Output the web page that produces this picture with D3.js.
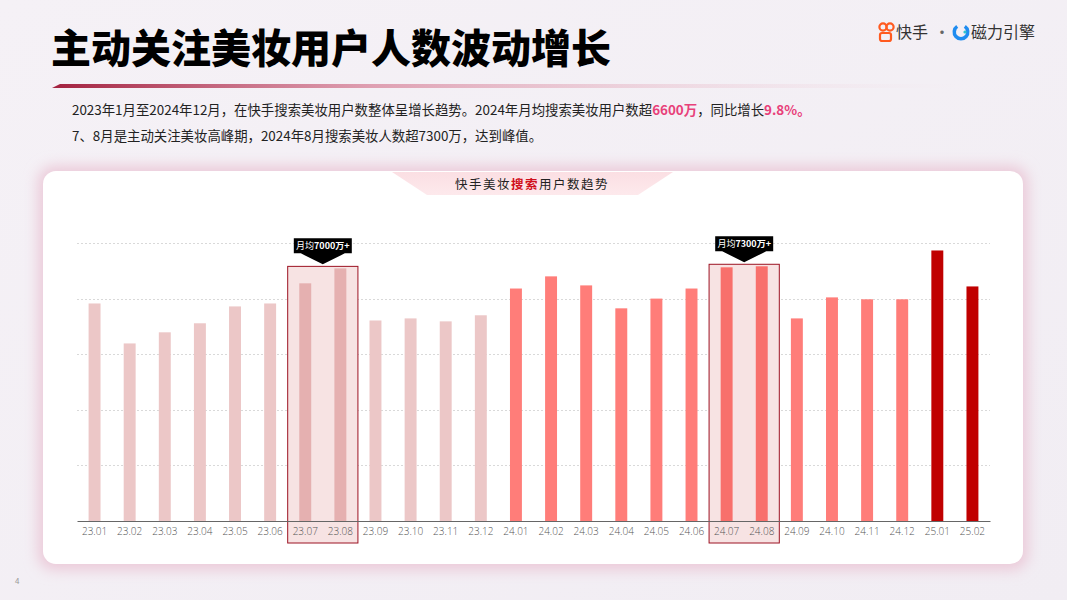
<!DOCTYPE html>
<html>
<head>
<meta charset="utf-8">
<script src="https://cdn.jsdelivr.net/npm/d3@7"></script>
<style>
  body { margin: 0; background: #f3eff4; }
  svg { display: block; font-family: "Noto Sans CJK SC", "Noto Sans", sans-serif; }
</style>
</head>
<body>
<div id="chart"></div>
<script>
// data (unit: 万)
var months = ["23.01","23.02","23.03","23.04","23.05","23.06","23.07","23.08","23.09","23.10","23.11","23.12",
              "24.01","24.02","24.03","24.04","24.05","24.06","24.07","24.08","24.09","24.10","24.11","24.12",
              "25.01","25.02"];
var users = [6260,5110,5430,5690,6175,6260,6840,7270,5770,5830,5745,5920,
             6690,7040,6780,6120,6400,6690,7300,7330,5830,6435,6380,6380,
             7785,6750];
var gridTicks = [1600,3200,4800,6400,8000];
var peakPairs = [["23.07","23.08"],["24.07","24.08"]];
var peakLabels = ["7000万+","7300万+"];

var W = 1067, H = 600;
var svg = d3.select("#chart").append("svg")
    .attr("width", W)
    .attr("height", H);

var defs = svg.append("defs");

// background
var bg = defs.append("linearGradient").attr("id", "bg").attr("x1", 0).attr("y1", 0).attr("x2", 1).attr("y2", 1);
bg.append("stop").attr("offset", "0%").attr("stop-color", "#f5f1f6");
bg.append("stop").attr("offset", "100%").attr("stop-color", "#f1edf3");
svg.append("rect").attr("width", W).attr("height", H).attr("fill", "url(#bg)");

// title underline
var ul = defs.append("linearGradient").attr("id", "ul");
ul.append("stop").attr("offset", "0%").attr("stop-color", "#a3213f");
ul.append("stop").attr("offset", "35%").attr("stop-color", "#d98aa0").attr("stop-opacity", 0.8);
ul.append("stop").attr("offset", "100%").attr("stop-color", "#f3dbe4").attr("stop-opacity", 0);
svg.append("path")
    .attr("d", "M52,88 L60,84 L960,84 L960,88 Z")
    .attr("fill", "url(#ul)");

// page title
svg.append("text")
    .attr("x", 51).attr("y", 63)
    .style("font-size", "40px")
    .style("font-weight", 900)
    .attr("fill", "#000")
    .text("主动关注美妆用户人数波动增长");

// logos top right
var logo = svg.append("g").attr("transform", "translate(878,22)");
logo.append("circle").attr("cx", 5).attr("cy", 5).attr("r", 3.6).attr("fill", "none").attr("stroke", "#ff5a1f").attr("stroke-width", 2.2);
logo.append("circle").attr("cx", 12).attr("cy", 5).attr("r", 3.6).attr("fill", "none").attr("stroke", "#ff5a1f").attr("stroke-width", 2.2);
logo.append("rect").attr("x", 2).attr("y", 11).attr("width", 11).attr("height", 8).attr("rx", 2).attr("fill", "none").attr("stroke", "#ff5a1f").attr("stroke-width", 2.2);
logo.append("text").attr("x", 18).attr("y", 16).style("font-size", "16px").attr("fill", "#333").text("快手");
logo.append("text").attr("x", 56).attr("y", 16).style("font-size", "16px").attr("fill", "#666").text("·");
logo.append("path")
    .attr("d", d3.arc()({innerRadius: 5, outerRadius: 8.5, startAngle: 0.6, endAngle: 2 * Math.PI - 0.6}))
    .attr("transform", "translate(83,10)")
    .attr("fill", "#1f8cf0");
logo.append("circle").attr("cx", 87).attr("cy", 10).attr("r", 1.6).attr("fill", "#2ec4d0");
logo.append("text").attr("x", 93).attr("y", 16).style("font-size", "16px").attr("fill", "#333").text("磁力引擎");

// summary lines
var s1 = svg.append("text").attr("x", 72).attr("y", 115).style("font-size", "13.4px").attr("fill", "#222");
s1.append("tspan").text("2023年1月至2024年12月，在快手搜索美妆用户数整体呈增长趋势。2024年月均搜索美妆用户数超");
s1.append("tspan").attr("fill", "#e8407a").style("font-weight", "bold").text("6600万");
s1.append("tspan").text("，同比增长");
s1.append("tspan").attr("fill", "#e8407a").style("font-weight", "bold").text("9.8%。");
svg.append("text").attr("x", 72).attr("y", 141).style("font-size", "13.4px").attr("fill", "#222")
    .text("7、8月是主动关注美妆高峰期，2024年8月搜索美妆人数超7300万，达到峰值。");

// card
var glow = defs.append("filter").attr("id", "glow").attr("x", "-10%").attr("y", "-10%").attr("width", "120%").attr("height", "120%");
glow.append("feGaussianBlur").attr("stdDeviation", 7);
svg.append("rect")
    .attr("x", 38).attr("y", 166).attr("width", 990).attr("height", 404).attr("rx", 16)
    .attr("fill", "#ebc9d8").attr("filter", "url(#glow)");
svg.append("rect")
    .attr("x", 43).attr("y", 171).attr("width", 980).attr("height", 393).attr("rx", 13)
    .attr("fill", "#fff");

// chart title banner
var bn = defs.append("linearGradient").attr("id", "bn").attr("x1", 0).attr("y1", 0).attr("x2", 0).attr("y2", 1);
bn.append("stop").attr("offset", "0%").attr("stop-color", "#fbdfe3");
bn.append("stop").attr("offset", "100%").attr("stop-color", "#fde9ec");
svg.append("path")
    .attr("d", "M392,172 L673,172 L638,195 L427,195 Z")
    .attr("fill", "url(#bn)");
var ct = svg.append("text").attr("x", 532).attr("y", 189)
    .attr("text-anchor", "middle")
    .style("font-size", "12.5px")
    .style("letter-spacing", "1.5px")
    .attr("fill", "#222");
ct.append("tspan").text("快手美妆");
ct.append("tspan").attr("fill", "#d0101c").style("font-weight", "bold").text("搜索");
ct.append("tspan").text("用户数趋势");

// scales
var x = d3.scaleBand()
    .domain(months)
    .range([77, 990])
    .padding(0);
var y = d3.scaleLinear()
    .domain([0, 8000])
    .range([521, 243]);
var barW = x.bandwidth() * 0.34;

// grid
svg.append("g")
    .selectAll("line")
    .data(gridTicks)
    .enter()
    .append("line")
    .attr("x1", 77).attr("x2", 990)
    .attr("y1", function(d) { return Math.round(y(d)) + 0.5; })
    .attr("y2", function(d) { return Math.round(y(d)) + 0.5; })
    .attr("stroke", "#cfcfcf")
    .attr("stroke-width", 0.8)
    .attr("stroke-dasharray", "2,2");

// highlight boxes (behind bars)
var isPeak = function(m) { return peakPairs.some(function(p) { return p.indexOf(m) >= 0; }); };
peakPairs.forEach(function(p) {
    var top = y(d3.max(p, function(m) { return users[months.indexOf(m)]; })) - 2;
    svg.append("rect")
        .attr("x", x(p[0]))
        .attr("y", top)
        .attr("width", x(p[1]) + x.bandwidth() - x(p[0]))
        .attr("height", 543 - top)
        .attr("fill", "#f7e3e3")
        .attr("stroke", "#9c1222")
        .attr("stroke-width", 1);
});

function barColor(m) {
    var yr = m.slice(0, 2);
    if (yr === "23") return isPeak(m) ? "#e5b0b0" : "#ecc7c7";
    if (yr === "24") return isPeak(m) ? "#f8706c" : "#ff7d79";
    return "#c00000";
}

// bars
svg.append("g")
    .selectAll("rect")
    .data(months)
    .enter()
    .append("rect")
    .attr("x", function(d) { return x(d) + (x.bandwidth() - barW) / 2; })
    .attr("y", function(d, i) { return y(users[i]); })
    .attr("width", barW)
    .attr("height", function(d, i) { return y(0) - y(users[i]); })
    .attr("fill", barColor);

// x axis
var xAxis = svg.append("g")
    .attr("transform", "translate(0,521)")
    .call(d3.axisBottom(x).tickSize(0).tickPadding(7));
xAxis.select(".domain").attr("stroke", "#666").attr("stroke-width", 1);
xAxis.selectAll("text")
    .style("font-family", "'Open Sans', 'Noto Sans', sans-serif")
    .style("font-size", "10px")
    .style("font-weight", 300)
    .attr("fill", "#555");

// callouts
peakPairs.forEach(function(p, k) {
    var top = y(d3.max(p, function(m) { return users[months.indexOf(m)]; })) - 2;
    var cx = x(p[1]);
    var tip = top - 2, by = tip - 11, ty = by - 15;
    svg.append("path")
        .attr("d", "M" + (cx - 29) + "," + ty + " L" + (cx + 29) + "," + ty +
                   " L" + (cx + 29) + "," + by + " L" + (cx + 22) + "," + by +
                   " L" + cx + "," + tip + " L" + (cx - 22) + "," + by +
                   " L" + (cx - 29) + "," + by + " Z")
        .attr("fill", "#000");
    var t = svg.append("text")
        .attr("x", cx).attr("y", by - 4)
        .attr("text-anchor", "middle")
        .style("font-size", "9px")
        .attr("fill", "#fff");
    t.append("tspan").text("月均");
    t.append("tspan").style("font-weight", "bold").text(peakLabels[k]);
});

// page number
svg.append("text").attr("x", 15).attr("y", 584).style("font-size", "8px").attr("fill", "#999").text("4");
</script>
</body>
</html>
